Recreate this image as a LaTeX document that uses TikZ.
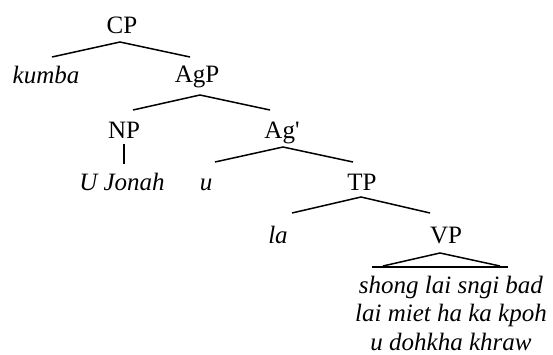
\documentclass[tikz,border=0pt]{standalone}
\usepackage{fontspec}
\setmainfont{Liberation Serif}
\begin{document}
\begin{tikzpicture}[x=1pt, y=-1pt, line width=1.5pt,
  font=\fontsize{25}{28.5}\selectfont,
  every node/.style={inner sep=0pt, anchor=base}]
\useasboundingbox (0,0) rectangle (553,354);

\node (CP)  at (122,33)  {CP};
\node (kum) at (46,83)   {\textit{kumba}};
\node (AgP) at (197,82)  {AgP};
\node (NP)  at (124,138) {NP};
\node (Agb) at (282,138) {Ag\textquotesingle};
\node (Jon) at (122,190) {\textit{U Jonah}};
\node (u)   at (206,190) {\textit{u}};
\node (TP)  at (362,190) {TP};
\node (la)  at (278,243) {\textit{la}};
\node (VP)  at (446,243) {VP};
% base of a multi-line node is its last line
\node[align=center] (VPt) at (451,350)
  {\textit{shong lai sngi bad}\\ \textit{lai miet ha ka kpoh}\\ \textit{u dohkha khraw}};

% roofs under each branching node
\coordinate (CPt)  at (120,42);  \coordinate (CPl)  at (52,57);   \coordinate (CPr)  at (190,57);
\coordinate (AgPt) at (200,95);  \coordinate (AgPl) at (133,110); \coordinate (AgPr) at (270,110);
\coordinate (Agbt) at (283,147); \coordinate (Agbl) at (215,162); \coordinate (Agbr) at (353,162);
\coordinate (TPt)  at (361,197); \coordinate (TPl)  at (292,213); \coordinate (TPr)  at (430,213);
\coordinate (VPt0) at (440,253); \coordinate (VPl)  at (383,266); \coordinate (VPr)  at (500,266);
\coordinate (VPbl) at (372,267); \coordinate (VPbr) at (508,267);

\draw (CPl) -- (CPt) -- (CPr);
\draw (AgPl) -- (AgPt) -- (AgPr);
\draw (Agbl) -- (Agbt) -- (Agbr);
\draw (TPl) -- (TPt) -- (TPr);
\draw (VPl) -- (VPt0) -- (VPr);
\draw (VPbl) -- (VPbr);

\draw (NP.south) ++(0,5) coordinate (NPd) -- ++(0,20) coordinate (Jonu);
\end{tikzpicture}
\end{document}
